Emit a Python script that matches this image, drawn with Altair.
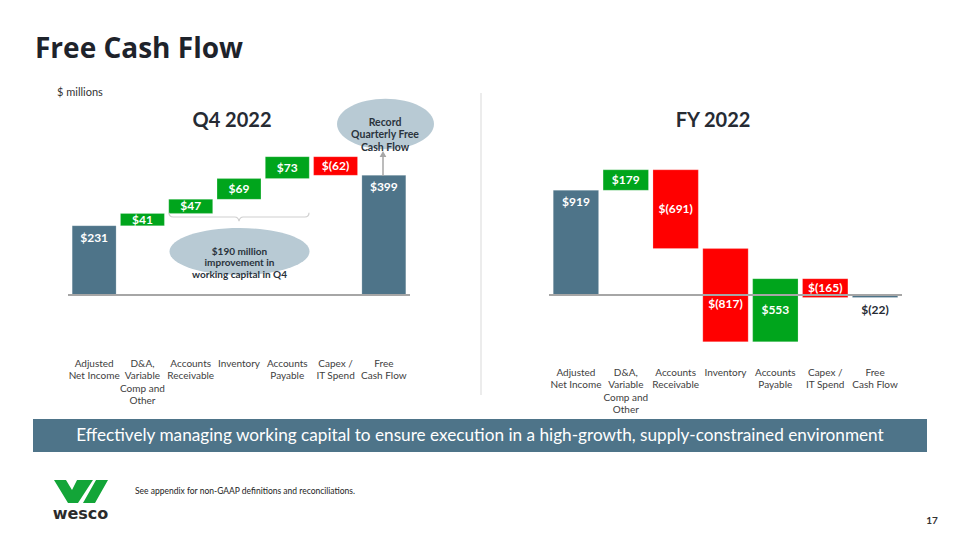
import altair as alt
import pandas as pd

# ---------------- data ----------------
categories = ["Adjusted Net Income", "D&A, Variable Comp and Other", "Accounts Receivable",
              "Inventory", "Accounts Payable", "Capex / IT Spend", "Free Cash Flow"]
category_lines = [["Adjusted", "Net Income"], ["D&A,", "Variable", "Comp and", "Other"],
                  ["Accounts", "Receivable"], ["Inventory"], ["Accounts", "Payable"],
                  ["Capex /", "IT Spend"], ["Free", "Cash Flow"]]
bar_kinds = ["total", "delta", "delta", "delta", "delta", "delta", "total"]
q4_values = [231, 41, 47, 69, 73, -62, 399]
fy_values = [919, 179, -691, -817, 553, -165, -22]

panel_titles = ["Q4 2022", "FY 2022"]
slide_title = "Free Cash Flow"
unit_note = "$ millions"
callout_record = ["Record", "Quarterly Free", "Cash Flow"]
callout_wc = ["$190 million", "improvement in", "working capital in Q4"]
banner_text = ("Effectively managing working capital to ensure execution in a "
               "high-growth, supply-constrained environment")
footnote = "See appendix for non-GAAP definitions and reconciliations."
page_number = "17"
logo_word = "wesco"

# ---------------- style ----------------
FONT = "Lato"
SLATE = "#4E7489"
GREEN = "#00A51C"
RED = "#FF0000"
GRAY = "#A6A6A6"
DARK = "#262B33"
ELL = "#B8CAD4"
LOGO_GREEN = "#13A538"


def fmt(v):
    return f"${v:,}" if v >= 0 else f"$({-v:,})"


def waterfall_df(values):
    rows, run = [], 0
    for cat, lines, kind, v in zip(categories, category_lines, bar_kinds, values):
        if kind == "total":
            start, end = 0, v
        else:
            start, end = run, run + v
        run = end
        rows.append({"cat": cat, "lines": "\n".join(lines), "start": start, "end": end,
                     "mid": (start + end) / 2, "label": fmt(v),
                     "kind": kind if kind == "total" else ("up" if v >= 0 else "down")})
    return pd.DataFrame(rows)


color_scale = alt.Scale(domain=["total", "up", "down"], range=[SLATE, GREEN, RED])

# a delta label whose mid-point would sit on the zero line is nudged below it
ON_AXIS = "abs(datum.mid) < 0.1 * abs(datum.end - datum.start)"


def panel(values, x_range, y_domain, y_range, label_top):
    df = waterfall_df(values)
    xs = alt.Scale(domain=categories, range=x_range, paddingInner=0.09, paddingOuter=0.045)
    ys = alt.Scale(domain=y_domain, range=y_range, nice=False, zero=False)
    X = alt.X("cat:N", scale=xs, axis=None)
    base = alt.Chart(df)
    bars = base.mark_bar(stroke="white", strokeOpacity=0.35, strokeWidth=0.6).encode(
        x=X, y=alt.Y("start:Q", scale=ys, axis=None), y2="end:Q",
        color=alt.Color("kind:N", scale=color_scale, legend=None))
    zero = alt.Chart(pd.DataFrame({"zero": [0]})).mark_rule(color=GRAY, strokeWidth=2).encode(
        y=alt.Y("zero:Q", scale=ys, axis=None),
        x=alt.value(x_range[0] - 2), x2=alt.value(x_range[1] + 2))
    lab = dict(font=FONT, fontSize=12, fontWeight="bold", color="white", baseline="middle")
    delta_lab = base.transform_filter(
        f"datum.kind != 'total' && !({ON_AXIS})").mark_text(**lab).encode(
        x=X, y=alt.Y("mid:Q", scale=ys, axis=None), text="label:N")
    cross_lab = base.transform_filter(
        f"datum.kind != 'total' && ({ON_AXIS})").mark_text(
        dy=9, **lab).encode(x=X, y=alt.Y("mid:Q", scale=ys, axis=None), text="label:N")
    top_lab = base.transform_filter("datum.kind == 'total' && datum.end > 0").mark_text(
        dy=12, **lab).encode(x=X, y=alt.Y("end:Q", scale=ys, axis=None), text="label:N")
    lab_dark = dict(lab, color=DARK)
    neg_lab = base.transform_filter("datum.kind == 'total' && datum.end < 0").mark_text(
        dy=12, **lab_dark).encode(x=X, y=alt.Y("end:Q", scale=ys, axis=None), text="label:N")
    cat_lab = base.mark_text(font=FONT, fontSize=10, color="#404040", lineBreak="\n",
                             baseline="top", lineHeight=12.4).encode(
        x=X, y=alt.value(label_top), text="lines:N")
    return alt.layer(bars, zero, delta_lab, cross_lab, top_lab, neg_lab, cat_lab)


def one():
    return alt.Chart(pd.DataFrame({"a": [0]}))


def txt(text, x, y, size, weight="normal", color=DARK, align="center",
        baseline="middle", font=FONT, **kw):
    return alt.Chart(pd.DataFrame({"t": [text]})).mark_text(
        font=font, fontSize=size, fontWeight=weight, color=color, align=align,
        baseline=baseline, **kw).encode(x=alt.value(x), y=alt.value(y), text="t:N")


def ellipse_path(r):
    k = 0.5523
    return (f"M -1 0 C -1 {-k*r:.4f} {-k:.4f} {-r:.4f} 0 {-r:.4f} "
            f"C {k:.4f} {-r:.4f} 1 {-k*r:.4f} 1 0 "
            f"C 1 {k*r:.4f} {k:.4f} {r:.4f} 0 {r:.4f} "
            f"C {-k:.4f} {r:.4f} -1 {k*r:.4f} -1 0 Z")


def shape_point(path, x, y, width, color, filled=True, stroke_width=1):
    m = dict(shape=path, size=width * width, opacity=1)
    if filled:
        m.update(filled=True, color=color, strokeWidth=0)
    else:
        m.update(filled=False, color=color, strokeWidth=stroke_width)
    return one().mark_point(**m).encode(x=alt.value(x), y=alt.value(y))


q4 = panel(q4_values, [70, 408], [0, 900], [295, 25], 359)
fy = panel(fy_values, [551, 900], [-1000, 2000], [409, 67], 368)

logo_path = ("M -1 -0.426 L -0.556 -0.426 L -0.333 -0.056 L -0.148 -0.426 L 0.444 -0.426 "
             "L -0.111 0.426 L -0.481 0.426 Z "
             "M 0.556 -0.426 L 1 -0.426 L 0.519 0.426 L 0.074 0.426 Z")
bracket_path = ("M -1 -0.06 Q -1 0 -0.94 0 L -0.06 0 Q -0.01 0 0 0.06 "
                "Q 0.01 0 0.06 0 L 0.94 0 Q 1 0 1 -0.06")

decor = [
    txt(slide_title, 35, 58, 28, weight="bold", align="left", baseline="alphabetic",
        font="Open Sans", color="#1E232B"),
    txt(unit_note, 57, 93, 11, color="#333333", align="left"),
    txt(panel_titles[0], 232, 121, 20, weight="bold"),
    txt(panel_titles[1], 713, 121, 20, weight="bold"),
    one().mark_rule(color="#D9D9D9", strokeWidth=1).encode(
        x=alt.value(481), y=alt.value(93), y2=alt.value(395)),
    # record callout
    shape_point(ellipse_path(0.52), 385.5, 124, 97, ELL),
    txt("\n".join(callout_record), 385, 123, 10.5, weight="bold", color="#2A333C",
        lineBreak="\n", lineHeight=12.4),
    one().mark_rule(color=GRAY, strokeWidth=1.5).encode(
        x=alt.value(383), y=alt.value(156), y2=alt.value(176)),
    one().mark_point(shape="triangle-up", size=45, filled=True, color=GRAY, opacity=1).encode(
        x=alt.value(383), y=alt.value(154)),
    # working capital callout
    shape_point(bracket_path, 239, 217, 140, "#CFCFCF", filled=False, stroke_width=1.2),
    shape_point(ellipse_path(0.335), 239.5, 251.5, 140, ELL),
    txt("\n".join(callout_wc), 239.5, 251.5, 10, weight="bold", color="#2A333C",
        lineBreak="\n", lineHeight=11.7),
    # banner
    one().mark_rect(color=SLATE).encode(
        x=alt.value(33), x2=alt.value(927), y=alt.value(419), y2=alt.value(452)),
    txt(banner_text, 480, 436, 17.2, color="white"),
    # footer
    shape_point(logo_path, 81, 491.5, 54, LOGO_GREEN),
    txt(logo_word, 80.5, 514, 16, weight="bold", color="#2B2B2B", font="DejaVu Sans"),
    txt(footnote, 135, 491, 8.5, color="#222222", align="left"),
    txt(page_number, 932, 521, 10, weight="bold", color="#333333"),
]

chart = alt.layer(q4, fy, *decor).resolve_scale(
    x="independent", y="independent").properties(
    width=960, height=540, padding=0,
    autosize=alt.AutoSizeParams(type="none"), background="white"
).configure_view(stroke=None)

chart.save("out.html", embed_options={"renderer": "svg", "actions": False})
